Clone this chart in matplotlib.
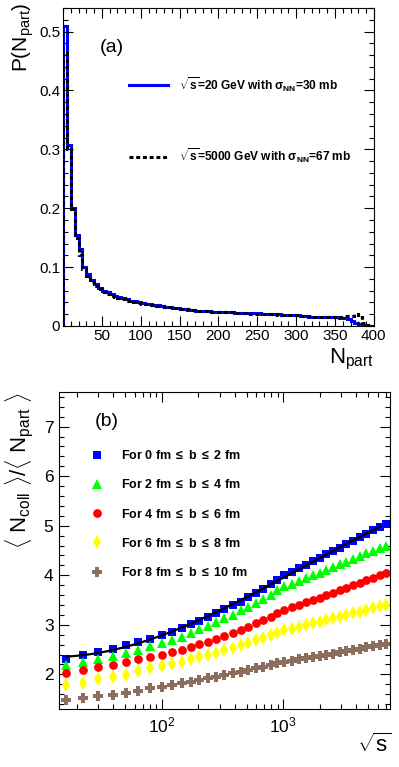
import numpy as np
import matplotlib
matplotlib.use('Agg')
import matplotlib.pyplot as plt
from matplotlib.lines import Line2D
from matplotlib.ticker import MultipleLocator, LogLocator, NullFormatter

plt.rcParams['font.family'] = ['Liberation Sans', 'DejaVu Sans']
plt.rcParams['mathtext.fontset'] = 'custom'
plt.rcParams['mathtext.rm'] = 'Liberation Sans'
plt.rcParams['mathtext.it'] = 'Liberation Sans:italic'
plt.rcParams['mathtext.bf'] = 'Liberation Sans:bold'

# ---- panel (a): N_part distributions, bins of 5 from 0 to 400
npart_edges = np.arange(0, 405, 5)
p_20gev = [0.510, 0.308, 0.200, 0.155, 0.130, 0.100, 0.088, 0.078, 0.071, 0.065,
           0.060, 0.057, 0.054, 0.051, 0.049, 0.047, 0.045, 0.043, 0.042, 0.040,
           0.039, 0.038, 0.037, 0.036, 0.035, 0.034, 0.033, 0.032, 0.031, 0.030,
           0.029, 0.028, 0.027, 0.027, 0.026, 0.026, 0.025, 0.025, 0.024, 0.024,
           0.024, 0.023, 0.023, 0.023, 0.022, 0.022, 0.022, 0.022, 0.022, 0.022,
           0.022, 0.021, 0.021, 0.021, 0.020, 0.020, 0.019, 0.019, 0.018, 0.018,
           0.018, 0.017, 0.017, 0.016, 0.016, 0.015, 0.015, 0.015, 0.015, 0.015,
           0.015, 0.014, 0.014, 0.012, 0.009, 0.005, 0.003, 0.001, 0.000, 0.000]
p_5000gev = [0.463, 0.300, 0.198, 0.150, 0.120, 0.097, 0.085, 0.075, 0.068, 0.062,
             0.057, 0.054, 0.051, 0.049, 0.047, 0.045, 0.043, 0.042, 0.041, 0.039,
             0.038, 0.037, 0.036, 0.035, 0.034, 0.034, 0.033, 0.032, 0.031, 0.030,
             0.029, 0.028, 0.028, 0.027, 0.026, 0.026, 0.025, 0.025, 0.024, 0.024,
             0.024, 0.023, 0.023, 0.023, 0.022, 0.022, 0.022, 0.021, 0.021, 0.021,
             0.021, 0.021, 0.020, 0.020, 0.020, 0.019, 0.019, 0.019, 0.018, 0.018,
             0.018, 0.017, 0.017, 0.017, 0.016, 0.016, 0.016, 0.016, 0.016, 0.016,
             0.016, 0.016, 0.017, 0.017, 0.017, 0.020, 0.015, 0.005, 0.001, 0.000]

# ---- panel (b): <Ncoll>/<Npart> vs sqrt(s)
sqrt_s = [16.3, 22.7, 30, 40, 51, 64, 80, 100, 121, 146,
          173, 204, 239, 279, 327, 383, 445, 515, 596, 684,
          787, 891, 1019, 1170, 1343, 1534, 1762, 1999, 2268, 2572,
          2917, 3309, 3752, 4256, 4827, 5475, 6209, 7042]
r_0_2 = [2.31, 2.39, 2.45, 2.52, 2.59, 2.66, 2.72, 2.79, 2.86, 2.93,
         3.01, 3.07, 3.16, 3.23, 3.31, 3.39, 3.47, 3.56, 3.64, 3.73,
         3.82, 3.91, 4.00, 4.07, 4.14, 4.21, 4.28, 4.35, 4.42, 4.49,
         4.56, 4.63, 4.70, 4.77, 4.84, 4.91, 4.97, 5.03]
r_2_4 = [2.19, 2.25, 2.31, 2.37, 2.43, 2.50, 2.57, 2.64, 2.69, 2.76,
         2.84, 2.91, 2.97, 3.06, 3.13, 3.19, 3.29, 3.36, 3.44, 3.53,
         3.61, 3.70, 3.78, 3.83, 3.89, 3.94, 4.00, 4.05, 4.11, 4.16,
         4.22, 4.27, 4.33, 4.38, 4.44, 4.49, 4.55, 4.60]
r_4_6 = [2.02, 2.09, 2.14, 2.19, 2.25, 2.31, 2.35, 2.40, 2.45, 2.50,
         2.56, 2.61, 2.66, 2.71, 2.77, 2.83, 2.89, 2.96, 3.03, 3.09,
         3.16, 3.23, 3.29, 3.35, 3.40, 3.45, 3.50, 3.55, 3.60, 3.65,
         3.70, 3.75, 3.80, 3.85, 3.90, 3.95, 4.00, 4.05]
r_6_8 = [1.78, 1.83, 1.90, 1.95, 1.99, 2.07, 2.12, 2.17, 2.21, 2.25,
         2.30, 2.35, 2.40, 2.44, 2.49, 2.54, 2.59, 2.64, 2.69, 2.74,
         2.79, 2.84, 2.89, 2.92, 2.96, 2.99, 3.03, 3.06, 3.09, 3.13,
         3.16, 3.20, 3.23, 3.26, 3.30, 3.33, 3.37, 3.40]
r_8_10 = [1.48, 1.52, 1.56, 1.58, 1.63, 1.66, 1.72, 1.75, 1.78, 1.82,
          1.85, 1.89, 1.92, 1.95, 1.99, 2.02, 2.05, 2.09, 2.12, 2.15,
          2.19, 2.22, 2.25, 2.27, 2.30, 2.32, 2.35, 2.37, 2.40, 2.42,
          2.45, 2.47, 2.50, 2.52, 2.55, 2.57, 2.60, 2.62]

series_b = [r_0_2, r_2_4, r_4_6, r_6_8, r_8_10]
labels_b = [r'For 0 fm $\mathbf{\leq}$ b $\mathbf{\leq}$ 2 fm',
            r'For 2 fm $\mathbf{\leq}$ b $\mathbf{\leq}$ 4 fm',
            r'For 4 fm $\mathbf{\leq}$ b $\mathbf{\leq}$ 6 fm',
            r'For 6 fm $\mathbf{\leq}$ b $\mathbf{\leq}$ 8 fm',
            r'For 8 fm $\mathbf{\leq}$ b $\mathbf{\leq}$ 10 fm']
colors_b = ['#0000ff', '#00ff00', '#ff0000', '#ffff00', '#8c6e5f']
markers_b = ['s', '^', 'o', 'd', 'P']
msizes_b = [5.8, 7, 6.3, 7.5, 7.5]

fig = plt.figure(figsize=(3.99, 7.67), dpi=100)
ax1 = fig.add_axes([0.158, 0.575, 0.779, 0.4146])
ax2 = fig.add_axes([0.148, 0.0756, 0.829, 0.4134])


def root_ticks(ax):
    ax.tick_params(which='both', direction='in', top=True, right=True, width=0.8)
    ax.tick_params(which='major', length=7, labelsize=11, pad=2)
    ax.tick_params(which='minor', length=3.5)
    for sp in ax.spines.values():
        sp.set_linewidth(0.8)


# panel a
ax1.stairs(p_20gev, npart_edges, color='#0000ff', lw=2.2)
ax1.stairs(p_5000gev, npart_edges, color='black', lw=2.2, linestyle=(0, (1.3, 0.9)))
ax1.set_xlim(0, 400)
ax1.set_ylim(0, 0.54)
ax1.set_xticks([50, 100, 150, 200, 250, 300, 350, 400])
ax1.set_yticks([0, 0.1, 0.2, 0.3, 0.4, 0.5])
ax1.set_yticklabels(['0', '0.1', '0.2', '0.3', '0.4', '0.5'])
ax1.xaxis.set_minor_locator(MultipleLocator(10))
ax1.yaxis.set_minor_locator(MultipleLocator(0.02))
root_ticks(ax1)
ax1.text(0.158, 0.876, '(a)', transform=ax1.transAxes, fontsize=14, ha='center', va='center')

h_a = [Line2D([], [], color='#0000ff', lw=2.2),
       Line2D([], [], color='black', lw=2.2, linestyle=(0, (1.3, 0.9)))]
l_a = [r'$\mathbf{\sqrt{s}}$=20 GeV with $\mathbf{\sigma_{NN}}$=30 mb',
       r'$\mathbf{\sqrt{s}}$=5000 GeV with $\mathbf{\sigma_{NN}}$=67 mb']
leg = ax1.legend(h_a, l_a, loc='upper left', bbox_to_anchor=(0.213, 0.79), frameon=False,
                 prop={'weight': 'bold', 'size': 8.6}, handlelength=3.25, handletextpad=0.95,
                 labelspacing=4.4, borderpad=0, borderaxespad=0)

fig.text(23 / 399, 1 - 3 / 767, r'P(N$_{\mathrm{part}}$)', rotation=90, ha='center', va='top', fontsize=15)
fig.text(374 / 399, 1 - 347 / 767, r'N$_{\mathrm{part}}$', ha='right', va='top', fontsize=16)

# panel b
for y, c, m, ms, lab in zip(series_b, colors_b, markers_b, msizes_b, labels_b):
    ax2.plot(sqrt_s, y, linestyle='none', marker=m, color=c, markersize=ms,
             markeredgewidth=0, label=lab)

# fit line through the 0-2 fm points
lx = np.log10(sqrt_s)
coef = np.polyfit(lx, r_0_2, 3)
xf = np.linspace(lx[0], lx[-2], 200)
ax2.plot(10 ** xf, np.polyval(coef, xf), color='black', lw=1.6)

ax2.set_xscale('log')
ax2.set_xlim(14.3, 7530)
ax2.set_ylim(1.3, 7.7)
ax2.set_yticks([2, 3, 4, 5, 6, 7])
ax2.yaxis.set_minor_locator(MultipleLocator(0.2))
ax2.xaxis.set_major_locator(LogLocator(base=10, numticks=10))
ax2.xaxis.set_minor_locator(LogLocator(base=10, subs=np.arange(2, 10), numticks=20))
ax2.xaxis.set_minor_formatter(NullFormatter())
root_ticks(ax2)
ax2.tick_params(which='major', labelsize=12.5)
ax2.tick_params(axis='x', which='major', pad=5)
ax2.tick_params(axis='y', which='major', pad=4)
ax2.text(0.145, 0.906, '(b)', transform=ax2.transAxes, fontsize=14, ha='center', va='center')

ax2.legend(loc='upper left', bbox_to_anchor=(0.097, 0.82), frameon=False,
           prop={'weight': 'bold', 'size': 9}, handlelength=1.0, handletextpad=1.4,
           labelspacing=1.3, borderpad=0, borderaxespad=0)

fig.text(20 / 399, 1 - 392 / 767,
         r'$\langle$ N$_{\mathrm{coll}}$ $\rangle$/$\langle$ N$_{\mathrm{part}}$ $\rangle$',
         rotation=90, ha='center', va='top', fontsize=16)
fig.text(391 / 399, 1 - 733 / 767, r'$\sqrt{\mathrm{s}}$', ha='right', va='top', fontsize=16)

fig.savefig('out.png', dpi=100)
